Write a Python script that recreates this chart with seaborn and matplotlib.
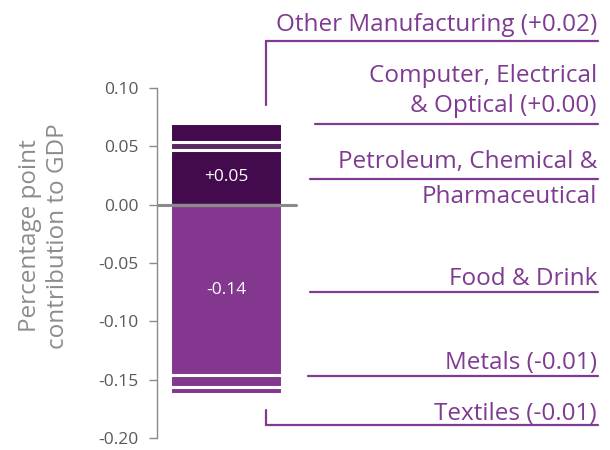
import seaborn as sns
import matplotlib.pyplot as plt
import pandas as pd
from matplotlib.lines import Line2D

# Contributions to GDP, percentage points
pos_sectors = ["Petroleum", "Computer", "Other Manufacturing"]
pos_values = [0.047, 0.007, 0.016]
pos_colors = ["#440a4e", "#5c2864", "#440a4e"]

neg_sectors = ["Food & Drink", "Metals", "Textiles"]
neg_values = [-0.146, -0.010, -0.006]
neg_colors = ["#84378f", "#84378f", "#84378f"]

bar_labels = {"Petroleum": "+0.05", "Food & Drink": "-0.14"}

# right hand labels: (text lines, y of each line centre in px, y of leader line in px,
# x start of the line in px, vertical drop end in px or None)
callouts = [
    (["Other Manufacturing (+0.02)"], [25], 41, 266, 105),
    (["Computer, Electrical", "& Optical (+0.00)"], [76, 106], 124, 315, None),
    (["Petroleum, Chemical &", "Pharmaceutical"], [162, 197], 179, 310, None),
    (["Food & Drink"], [279], 292, 310, None),
    (["Metals (-0.01)"], [363], 376, 308, None),
    (["Textiles (-0.01)"], [414], 425, 266, 410),
]

W, H = 610, 450
purple = "#7f3b91"
grey = "#8a8a8a"

sns.set_style("white")
plt.rcParams["font.family"] = ["Open Sans", "DejaVu Sans"]

fig = plt.figure(figsize=(W / 100, H / 100), dpi=100)
ax = fig.add_axes([157 / W, 1 - 438 / H, (W - 157) / W, 350 / H])

# draw cumulative totals from the outside in so the white edges give the gaps
for sectors, values, colors in [(pos_sectors, pos_values, pos_colors),
                                (neg_sectors, neg_values, neg_colors)]:
    df = pd.DataFrame({"sector": sectors, "value": values})
    df["cum"] = df["value"].cumsum()
    for i in reversed(range(len(df))):
        sns.barplot(x=["all"], y=[df["cum"].iloc[i]], color=colors[i],
                    saturation=1, width=0.8, edgecolor="white", linewidth=2.2,
                    ax=ax)
    for i, row in df.iterrows():
        if row["sector"] in bar_labels:
            mid = row["cum"] - row["value"] / 2
            ax.text(0, mid, bar_labels[row["sector"]], color="white",
                    ha="center", va="center", fontsize=12.5)

ax.set_xlim(-0.493, 2.743)
ax.set_ylim(-0.2, 0.1)
ax.set_yticks([0.10, 0.05, 0.00, -0.05, -0.10, -0.15, -0.20])
ax.set_yticklabels(["0.10", "0.05", "0.00", "-0.05", "-0.10", "-0.15", "-0.20"])
ax.set_xticks([])
ax.set_xlabel("")
ax.set_ylabel("")

# zero line
ax.plot([-0.486, 0.5], [0, 0], color=grey, lw=2.2, clip_on=False, zorder=5)

for s in ["top", "right", "bottom"]:
    ax.spines[s].set_visible(False)
ax.spines["left"].set_color(grey)
ax.spines["left"].set_linewidth(1.0)
ax.tick_params(axis="y", direction="out", length=5.5, width=1.0, color=grey,
               labelcolor="#595959", labelsize=12.5, pad=8, left=True)

fig.text(44 / W, 1 - 236 / H, "Percentage point\ncontribution to GDP",
         rotation=90, ha="center", va="center", fontsize=17.5, color="#8c8c8c",
         multialignment="center", linespacing=1.2)

for lines, ys, ly, lx, drop in callouts:
    for text, ty in zip(lines, ys):
        fig.text(597 / W, 1 - ty / H, text, ha="right", va="center",
                 fontsize=17.5, color=purple)
    fig.add_artist(Line2D([lx / W, 598 / W], [1 - ly / H, 1 - ly / H],
                          color=purple, lw=1.6))
    if drop is not None:
        fig.add_artist(Line2D([lx / W, lx / W], [1 - ly / H, 1 - drop / H],
                              color=purple, lw=1.6))

fig.savefig("out.png", dpi=100)
